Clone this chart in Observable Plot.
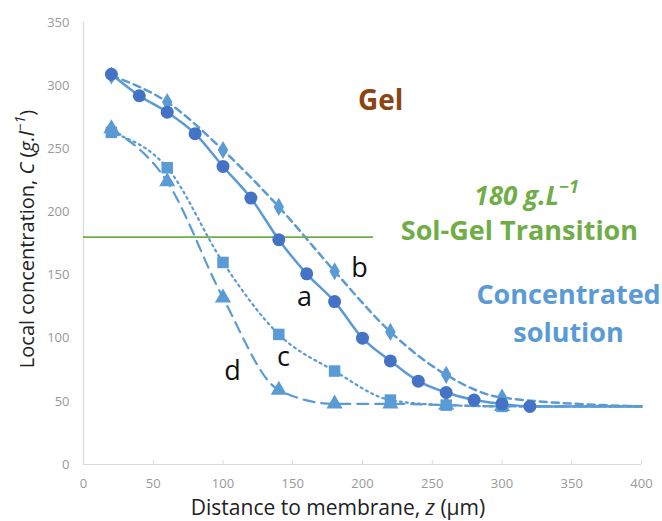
<!DOCTYPE html>
<html><head><meta charset="utf-8">
<script src="https://cdn.jsdelivr.net/npm/d3@7"></script>
<script src="https://cdn.jsdelivr.net/npm/@observablehq/plot@0.6"></script>
<style>body{margin:0;background:#fff}</style>
</head><body><div id="chart"></div>
<script>
// Data
const zA = [20,40,60,80,100,120,140,160,180,200,220,240,260,280,300,320,400];
const cA = [309,292,279,262,236,211,178,151,129,100,82,66,57,51,48,46,46];
const zB = [20,60,100,140,180,220,260,300,400];
const cB = [308,287,249,204,153,105,71,53,46];
const zC = [20,60,100,140,180,220,260,300,400];
const cC = [263,235,160,103,74,51,47,46,46];
const zD = [20,60,100,140,180,220,260,300,400];
const cD = [266,224,132,59,48,48,47,46,46];
const xTicks = [0,50,100,150,200,250,300,350,400];
const yTicks = [0,50,100,150,200,250,300,350];
const gelLevel = 180;

const dark = "#4472C4", light = "#5B9BD5", green = "#70AD47";
const FONT = "'Open Sans', sans-serif";
const rows = (z, c, s) => z.map((v, i) => ({z: v, c: c[i], s}));
const A = rows(zA, cA, "a"), B = rows(zB, cB, "b"), C = rows(zC, cC, "c"), D = rows(zD, cD, "d");
const mk = d => d.z < 400;

const chart = Plot.plot({
  width: 662, height: 521,
  marginLeft: 83, marginRight: 21, marginTop: 22, marginBottom: 57,
  x: {domain: [0, 400]},
  y: {domain: [0, 350]},
  style: {fontFamily: FONT, background: "white"},
  marks: [
    Plot.ruleX([0], {stroke: "#d9d9d9", strokeWidth: 1.2}),
    Plot.ruleY([0], {stroke: "#d9d9d9", strokeWidth: 1.2}),
    Plot.ruleX(xTicks.slice(1), {y1: 0, y2: 3, stroke: "#d9d9d9"}),
    Plot.axisX({ticks: xTicks, tickSize: 0, tickPadding: 14, fontSize: 13, color: "#999", label: null}),
    Plot.axisY({ticks: yTicks, tickSize: 0, tickPadding: 14, fontSize: 13, color: "#999", label: null}),
    Plot.line(D, {x: "z", y: "c", stroke: light, strokeWidth: 2.2, strokeDasharray: "11,7", curve: "monotone-x"}),
    Plot.line(C, {x: "z", y: "c", stroke: light, strokeWidth: 2.2, strokeDasharray: "2,4", curve: "monotone-x"}),
    Plot.line(B, {x: "z", y: "c", stroke: light, strokeWidth: 2.5, strokeDasharray: "7,5", curve: "monotone-x"}),
    Plot.line(A, {x: "z", y: "c", stroke: light, strokeWidth: 2.5, curve: "monotone-x"}),
    Plot.ruleY([gelLevel], {x1: 0, x2: 208, stroke: green, strokeWidth: 1.8}),
    Plot.dot(D.filter(mk), {x: "z", y: "c", symbol: "triangle", r: 6, fill: light}),
    Plot.dot(C.filter(mk), {x: "z", y: "c", symbol: "square", r: 6.5, fill: light}),
    Plot.dot(B.filter(mk), {x: "z", y: "c", symbol: "diamond", r: 5.5, fill: light}),
    Plot.dot(A.filter(mk), {x: "z", y: "c", symbol: "circle", r: 6.5, fill: dark}),
    Plot.text(["Gel"], {x: 213, y: 288, fill: "#8B4513", fontSize: 28, fontWeight: "bold"}),
    Plot.text(["Sol-Gel Transition"], {x: 312.5, y: 184.5, fill: green, fontSize: 27, fontWeight: "bold"}),
    Plot.text(["Concentrated"], {x: 347.7, y: 134, fill: light, fontSize: 27, fontWeight: "bold"}),
    Plot.text(["solution"], {x: 347.7, y: 103.5, fill: light, fontSize: 27, fontWeight: "bold"}),
    Plot.text(["a"], {x: 158.4, y: 132, fill: "#111", fontSize: 27}),
    Plot.text(["b"], {x: 197.8, y: 155, fill: "#111", fontSize: 27}),
    Plot.text(["c"], {x: 143.4, y: 84.7, fill: "#111", fontSize: 27}),
    Plot.text(["d"], {x: 106.8, y: 73.6, fill: "#111", fontSize: 27})
  ]
});
document.getElementById("chart").appendChild(chart);

const svg = d3.select(chart);
const sx = chart.scale("x"), sy = chart.scale("y");

// "180 g.L^-1" label with superscript
const gl = svg.append("text")
  .attr("x", sx.apply(318)).attr("y", sy.apply(211))
  .attr("text-anchor", "middle").attr("dominant-baseline", "middle")
  .attr("font-family", FONT).attr("font-size", 26).attr("font-weight", "bold")
  .attr("font-style", "italic").attr("fill", green);
gl.append("tspan").text("180 g.L");
gl.append("tspan").attr("font-size", 18).attr("dy", -10).text("−1");

const yl = svg.append("text")
  .attr("transform", "translate(29,239) rotate(-90)")
  .attr("text-anchor", "middle").attr("dominant-baseline", "middle")
  .attr("font-family", FONT).attr("font-size", 20).attr("fill", "#222");
yl.append("tspan").text("Local concentration, ");
yl.append("tspan").attr("font-style", "italic").text("C");
yl.append("tspan").text(" (");
yl.append("tspan").attr("font-style", "italic").text("g.l");
yl.append("tspan").attr("font-style", "italic").attr("font-size", 14).attr("dy", -8).text("−1");
yl.append("tspan").attr("dy", 8).text(")");

const xl = svg.append("text")
  .attr("x", 338).attr("y", 515)
  .attr("text-anchor", "middle")
  .attr("font-family", FONT).attr("font-size", 21).attr("fill", "#222");
xl.append("tspan").text("Distance to membrane, ");
xl.append("tspan").attr("font-style", "italic").text("z");
xl.append("tspan").text(" (µm)");
</script>
</body></html>
